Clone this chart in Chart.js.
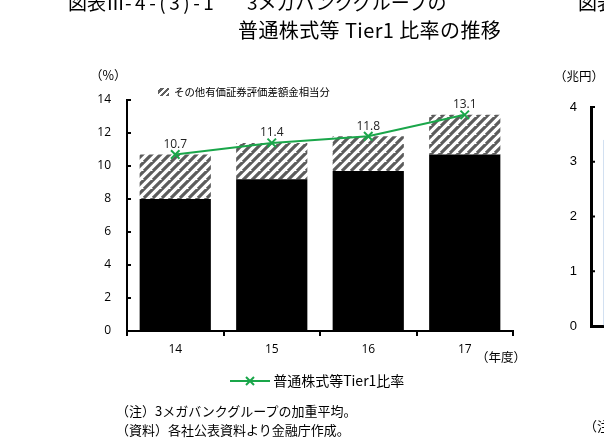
<!DOCTYPE html>
<html lang="ja">
<head>
<meta charset="utf-8">
<script src="https://cdn.jsdelivr.net/npm/chart.js@4/dist/chart.umd.min.js"></script>
<style>
  html, body { margin: 0; padding: 0; width: 604px; height: 444px; overflow: hidden; background: #fff; }
  body { position: relative; font-family: "Noto Sans CJK JP", sans-serif; color: #000; }
  .txt { position: absolute; white-space: nowrap; line-height: 1; }
  #main { position: absolute; left: 0; top: 0; }
  #side { position: absolute; left: 520px; top: 0; }
  .swatch { display: inline-block; width: 11px; height: 8px; margin-right: 5px; vertical-align: 0px;
    background: repeating-linear-gradient(135deg, #fff 0 2px, #606060 2px 4.5px); }
</style>
</head>
<body>
<canvas id="main" width="604" height="444"></canvas>
<canvas id="side" width="200" height="444"></canvas>

<div class="txt" style="left:68px; top:-8px; font-size:19px;">図表Ⅲ<span style="letter-spacing:3.5px;">-4-(3)-1</span></div>
<div class="txt" style="left:247px; top:-8px; font-size:19px;">3メガバンクグループの</div>
<div class="txt" style="left:238px; top:20px; font-size:20px; letter-spacing:0.4px;">普通株式等 Tier1 比率の推移</div>
<div class="txt" style="left:578px; top:-8px; font-size:19px;">図表</div>

<div class="txt" style="left:90px; top:69px; font-size:12.5px;">（%）</div>
<div class="txt" style="left:158px; top:87px; font-size:10.4px;"><span class="swatch"></span>その他有価証券評価差額金相当分</div>
<div class="txt" style="left:476px; top:351px; font-size:12.5px;">（年度）</div>
<div class="txt" style="left:554px; top:70px; font-size:12.5px;">（兆円）</div>

<div class="txt" style="left:230px; top:373px; font-size:14px;">
  <svg width="40" height="12" style="vertical-align:-1px"><line x1="0" y1="6" x2="40" y2="6" stroke="#1aa64a" stroke-width="2"/><path d="M16 2 L24 10 M24 2 L16 10" stroke="#1aa64a" stroke-width="2"/></svg>
  普通株式等Tier1比率</div>

<div class="txt" style="left:116px; top:404px; font-size:13px;">（注）3メガバンクグループの加重平均。</div>
<div class="txt" style="left:116px; top:423px; font-size:13px;">（資料）各社公表資料より金融庁作成。</div>
<div class="txt" style="left:584px; top:419px; font-size:13px;">（注</div>

<script>
// 年度
const years = ['14', '15', '16', '17'];
// 普通株式等Tier1比率（%）
const tier1Ratio = [10.7, 11.4, 11.8, 13.1];
// その他有価証券評価差額金相当分を除いた部分（%）
const baseRatio = [8.0, 9.2, 9.7, 10.7];
// その他有価証券評価差額金相当分（%）
const unrealizedGains = [2.7, 2.2, 2.1, 2.4];
// 縦軸目盛
const yMax = 14;
const yStep = 2;

// 右側（隣の図表）の一部
const sideCategories = [''];
const sideValues = [3.4];

// 斜線パターン
const hatch = (() => {
    const n = 9;
    const c = document.createElement('canvas');
    c.width = n; c.height = n;
    const g = c.getContext('2d');
    g.fillStyle = '#fff';
    g.fillRect(0, 0, n, n);
    g.strokeStyle = '#5c5c5c';
    g.lineWidth = 3.2;
    g.beginPath();
    [0, n, 2 * n].forEach((k) => {
        g.moveTo(k + n, -n);
        g.lineTo(k - n, n);
    });
    g.stroke();
    return g.createPattern(c, 'repeat');
})();

// 縦軸の内向き目盛
const innerTicks = {
    id: 'innerTicks',
    afterDraw(chart) {
        const ys = chart.scales.y;
        const ctx = chart.ctx;
        ctx.save();
        ctx.strokeStyle = '#000';
        ctx.lineWidth = 2;
        ys.ticks.forEach((t) => {
            const py = ys.getPixelForValue(t.value);
            ctx.beginPath();
            ctx.moveTo(ys.right, py);
            ctx.lineTo(ys.right + 4, py);
            ctx.stroke();
        });
        ctx.restore();
    },
};

// 折れ線の数値ラベル
const valueLabels = {
    id: 'valueLabels',
    afterDatasetsDraw(chart) {
        const ctx = chart.ctx;
        chart.data.datasets.forEach((ds, i) => {
            if (ds.type !== 'line') return;
            const meta = chart.getDatasetMeta(i);
            ctx.save();
            ctx.font = '12px "Open Sans", sans-serif';
            ctx.fillStyle = '#222';
            ctx.textAlign = 'center';
            ctx.textBaseline = 'bottom';
            meta.data.forEach((pt, j) => {
                ctx.fillText(ds.data[j].toFixed(1), pt.x, pt.y - 4);
            });
            ctx.restore();
        });
    },
};

new Chart(document.getElementById('main').getContext('2d'), {
    type: 'bar',
    data: {
        labels: years,
        datasets: [
            {
                type: 'line',
                label: '普通株式等Tier1比率',
                data: tier1Ratio,
                stack: 'total',
                borderColor: '#1aa64a',
                backgroundColor: '#1aa64a',
                borderWidth: 2,
                pointStyle: 'crossRot',
                pointRadius: 6,
                pointBorderWidth: 2,
                tension: 0,
                order: 0,
            },
            {
                label: '普通株式等Tier1比率（除く評価差額金）',
                data: baseRatio,
                backgroundColor: '#000',
                stack: 'bars',
                barPercentage: 0.82,
                categoryPercentage: 0.9,
                order: 1,
            },
            {
                label: 'その他有価証券評価差額金相当分',
                data: unrealizedGains,
                backgroundColor: hatch,
                stack: 'bars',
                barPercentage: 0.82,
                categoryPercentage: 0.9,
                order: 1,
            },
        ],
    },
    options: {
        responsive: false,
        animation: false,
        devicePixelRatio: 1,
        layout: { padding: { left: 97, right: 91, top: 100, bottom: 83 } },
        plugins: {
            legend: { display: false },
            tooltip: { enabled: false },
        },
        scales: {
            x: {
                stacked: true,
                afterFit: (s) => { s.height = 30; },
                border: { color: '#000', width: 2 },
                grid: { offset: true, drawOnChartArea: false, color: '#000', lineWidth: 2, tickLength: 5 },
                ticks: { color: '#000', padding: 6, font: { size: 12, family: '"Open Sans", sans-serif' } },
            },
            y: {
                stacked: true,
                min: 0,
                max: yMax,
                afterFit: (s) => { s.width = 30; },
                border: { color: '#000', width: 2 },
                grid: { display: true, drawOnChartArea: false, drawTicks: false },
                ticks: { stepSize: yStep, color: '#000', padding: 16, font: { size: 12, family: '"Open Sans", sans-serif' } },
            },
        },
    },
    plugins: [innerTicks, valueLabels],
});

new Chart(document.getElementById('side').getContext('2d'), {
    type: 'bar',
    data: {
        labels: sideCategories,
        datasets: [
            {
                data: sideValues,
                backgroundColor: '#e3edf8',
                borderColor: '#9fbde0',
                borderWidth: 1,
                barPercentage: 0.8,
                categoryPercentage: 0.9,
            },
        ],
    },
    options: {
        responsive: false,
        animation: false,
        devicePixelRatio: 1,
        layout: { padding: { left: 41, right: 41, top: 107, bottom: 118 } },
        plugins: { legend: { display: false }, tooltip: { enabled: false } },
        scales: {
            x: {
                afterFit: (s) => { s.height = 0; },
                border: { color: '#000', width: 3 },
                grid: { display: false },
                ticks: { display: false },
            },
            y: {
                min: 0,
                max: 4,
                afterFit: (s) => { s.width = 30; },
                border: { color: '#000', width: 3 },
                grid: { display: true, drawOnChartArea: false, drawTicks: false },
                ticks: { stepSize: 1, color: '#000', padding: 14, font: { size: 13, family: '"Liberation Sans", sans-serif' } },
            },
        },
    },
    plugins: [innerTicks],
});
</script>
</body>
</html>
